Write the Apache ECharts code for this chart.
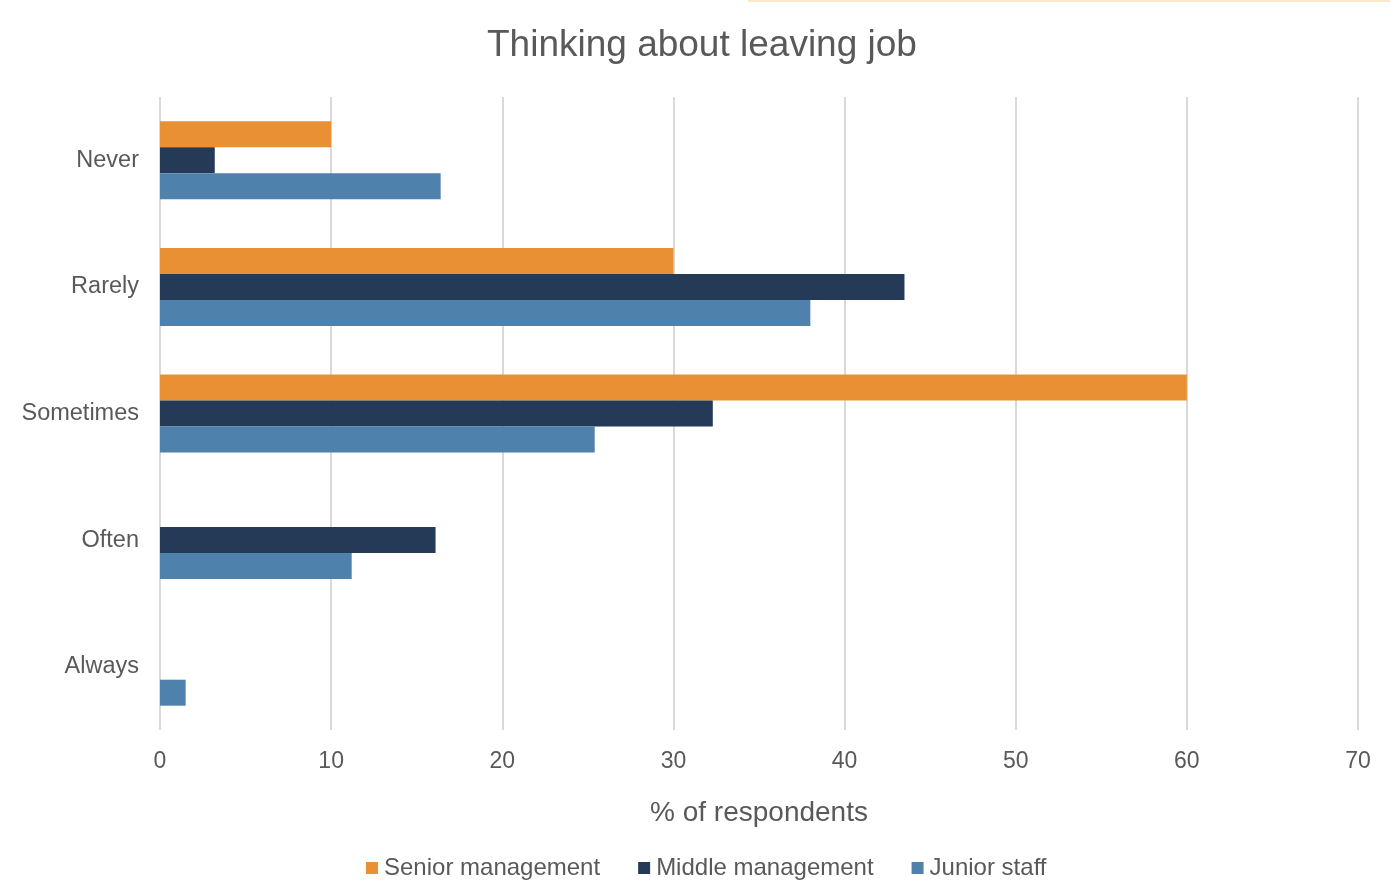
<!DOCTYPE html>
<html>
<head>
<meta charset="utf-8">
<script src="https://cdn.jsdelivr.net/npm/echarts@6/dist/echarts.min.js"></script>
<style>
  html, body { margin: 0; padding: 0; background: #fff; }
  #chart { width: 1390px; height: 881px; }
</style>
</head>
<body>
<div id="chart"></div>
<script>
// Answers to "How often do you think about leaving your job?"
const categories = ['Never', 'Rarely', 'Sometimes', 'Often', 'Always'];
const seniorManagement = [10.0, 30.0, 60.0, 0, 0];
const middleManagement = [3.2, 43.5, 32.3, 16.1, 0];
const juniorStaff = [16.4, 38.0, 25.4, 11.2, 1.5];
const seriesNames = ['Senior management', 'Middle management', 'Junior staff'];
const seriesColors = ['#EA9034', '#243A56', '#4F81AD'];

const textColor = '#595959';
const fontFamily = 'Liberation Sans, Arial, sans-serif';

const chart = echarts.init(document.getElementById('chart'));
const seriesData = [seniorManagement, middleManagement, juniorStaff];

chart.setOption({
  animation: false,
  textStyle: { fontFamily: fontFamily },
  title: {
    text: 'Thinking about leaving job',
    left: 482,
    top: 22,
    textStyle: { color: textColor, fontSize: 37, fontWeight: 'normal', fontFamily: fontFamily }
  },
  graphic: [{
    type: 'rect',
    shape: { x: 748, y: 0, width: 642, height: 2 },
    style: { fill: '#FCE9C8' }
  }],
  legend: {
    bottom: -4,
    left: 361,
    itemWidth: 12,
    itemHeight: 12,
    itemGap: 38,
    icon: 'rect',
    textStyle: { color: textColor, fontSize: 24, fontFamily: fontFamily, padding: [0, 0, 0, 1] },
    data: seriesNames
  },
  grid: { left: 160, right: 32, top: 97, bottom: 151, containLabel: false },
  xAxis: {
    type: 'value',
    min: 0,
    max: 70,
    interval: 10,
    name: '% of respondents',
    nameLocation: 'middle',
    nameGap: 69,
    nameTextStyle: { color: textColor, fontSize: 28, fontFamily: fontFamily },
    axisLine: { show: false },
    axisTick: { show: false },
    axisLabel: { color: textColor, fontSize: 23, margin: 20, fontFamily: fontFamily },
    splitLine: { show: true, lineStyle: { color: '#D9D9D9', width: 2 } }
  },
  yAxis: {
    type: 'category',
    inverse: true,
    data: categories,
    axisLine: { show: false },
    axisTick: { show: false },
    axisLabel: { color: textColor, fontSize: 23.5, margin: 21, fontFamily: fontFamily, padding: [4, 0, 0, 0] }
  },
  series: seriesNames.map((name, i) => ({
    name: name,
    type: 'bar',
    data: seriesData[i],
    barWidth: 26,
    barGap: '0%',
    itemStyle: { color: seriesColors[i] }
  }))
});
</script>
</body>
</html>
